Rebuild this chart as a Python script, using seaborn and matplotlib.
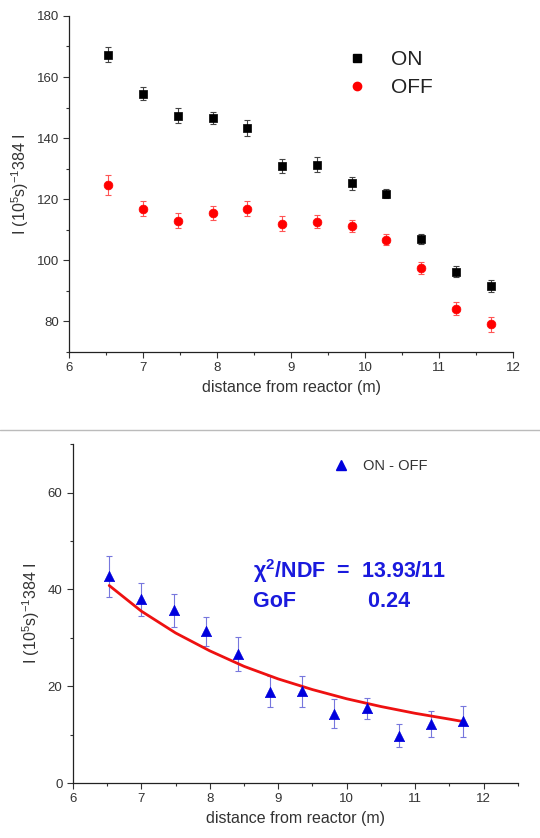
import numpy as np
import pandas as pd
import seaborn as sns
import matplotlib.pyplot as plt
from matplotlib.ticker import MultipleLocator
from matplotlib.lines import Line2D

# distances (m)
distancia = [6.53, 7.00, 7.47, 7.94, 8.41, 8.88, 9.35, 9.82, 10.29, 10.76, 11.23, 11.70]

# reactor ON / OFF
on_val = [167.3, 154.6, 147.4, 146.7, 143.3, 130.9, 131.3, 125.2, 121.8, 107.0, 96.3, 91.5]
on_err = [2.5, 2.2, 2.3, 2.0, 2.5, 2.4, 2.4, 2.2, 1.5, 1.5, 1.8, 2.0]
off_val = [124.6, 116.9, 113.0, 115.5, 116.9, 112.0, 112.7, 111.2, 106.8, 97.4, 84.2, 79.0]
off_err = [3.3, 2.5, 2.5, 2.2, 2.5, 2.5, 2.2, 2.0, 1.8, 2.0, 2.0, 2.5]

# ON - OFF
diff_val = [42.7, 38.0, 35.7, 31.3, 26.6, 18.9, 19.0, 14.3, 15.4, 9.8, 12.2, 12.8]
diff_err = [4.2, 3.4, 3.4, 2.9, 3.5, 3.2, 3.2, 3.0, 2.1, 2.3, 2.6, 3.2]

# curva de ajuste
fit_x = [6.53, 7.0, 7.5, 8.0, 8.5, 9.0, 9.5, 10.0, 10.5, 11.0, 11.5, 11.7]
fit_y = [40.8, 35.5, 31.0, 27.3, 24.1, 21.5, 19.3, 17.4, 15.8, 14.4, 13.2, 12.7]

df = pd.DataFrame({'d': distancia, 'on': on_val, 'off': off_val, 'diff': diff_val})
fit = pd.DataFrame({'d': fit_x, 'y': fit_y})

sns.set_theme(style='ticks')
plt.rcParams['font.family'] = ['Liberation Sans', 'DejaVu Sans']
plt.rcParams['mathtext.fontset'] = 'custom'
plt.rcParams['mathtext.rm'] = 'Liberation Sans'
plt.rcParams['mathtext.bf'] = 'Liberation Sans:bold'

fig = plt.figure(figsize=(5.4, 8.38), dpi=100)
ax1 = fig.add_axes([0.128, 0.580, 0.822, 0.401])
ax2 = fig.add_axes([0.135, 0.0656, 0.824, 0.4044])

ylab = r'I (10$^5$s)$^{-1}$384 I'

# ---- panel superior ----
ax1.errorbar(df['d'], df['on'], yerr=on_err, fmt='none', ecolor='#444444',
             elinewidth=0.8, capsize=2.5, capthick=0.8)
ax1.errorbar(df['d'], df['off'], yerr=off_err, fmt='none', ecolor='#ff5555',
             elinewidth=0.8, capsize=2.5, capthick=0.8)
sns.scatterplot(data=df, x='d', y='on', marker='s', color='black', s=38,
                edgecolor='black', linewidth=0.5, ax=ax1, zorder=3)
sns.scatterplot(data=df, x='d', y='off', marker='o', color='#ff0000', s=40,
                edgecolor='#ff0000', linewidth=0.5, ax=ax1, zorder=3)
ax1.set_xlim(6, 12)
ax1.set_ylim(70, 180)
ax1.xaxis.set_major_locator(MultipleLocator(1))
ax1.xaxis.set_minor_locator(MultipleLocator(0.5))
ax1.yaxis.set_minor_locator(MultipleLocator(10))
ax1.set_yticks([80, 100, 120, 140, 160, 180])
ax1.set_xlabel('distance from reactor (m)', fontsize=11.5, color='#333333')
ax1.set_ylabel(ylab, fontsize=11.5, color='#333333')
handles1 = [Line2D([], [], marker='s', color='black', ls='none', markersize=6),
            Line2D([], [], marker='o', color='#ff0000', ls='none', markersize=6)]
ax1.legend(handles1, ['ON', 'OFF'], loc='upper left', bbox_to_anchor=(0.56, 0.955),
           frameon=False, fontsize=15, handletextpad=0.6, labelspacing=0.45,
           labelcolor='#222222')

# ---- panel inferior ----
ax2.errorbar(df['d'], df['diff'], yerr=diff_err, fmt='none', ecolor='#7777dd',
             elinewidth=0.8, capsize=2.5, capthick=0.8)
sns.lineplot(data=fit, x='d', y='y', color='#ee1111', linewidth=2, ax=ax2, zorder=2)
sns.scatterplot(data=df, x='d', y='diff', marker='^', color='#0000dd', s=55,
                edgecolor='#0000dd', linewidth=0.5, ax=ax2, zorder=3)
ax2.set_xlim(6, 12.5)
ax2.set_ylim(0, 70)
ax2.xaxis.set_minor_locator(MultipleLocator(0.5))
ax2.set_xticks([6, 7, 8, 9, 10, 11, 12])
ax2.set_yticks([0, 20, 40, 60])
ax2.yaxis.set_minor_locator(MultipleLocator(10))
ax2.set_xlabel('distance from reactor (m)', fontsize=11.5, color='#333333')
ax2.set_ylabel(ylab, fontsize=11.5, color='#333333')
handles2 = [Line2D([], [], marker='^', color='#0000dd', ls='none', markersize=7)]
ax2.legend(handles2, ['ON - OFF'], loc='upper left', bbox_to_anchor=(0.54, 0.995),
           frameon=False, fontsize=10.5, handletextpad=0.5, labelcolor='#333333')
ax2.text(0.405, 0.605, r'$\mathbf{\chi^2}$/NDF  =  13.93/11', transform=ax2.transAxes,
         fontsize=15.5, fontweight='bold', color='#1a1add')
ax2.text(0.405, 0.52, 'GoF            0.24', transform=ax2.transAxes,
         fontsize=15.5, fontweight='bold', color='#1a1add')

for ax in (ax1, ax2):
    sns.despine(ax=ax)
    ax.tick_params(which='major', direction='out', length=4, width=0.8,
                   labelsize=9.5, colors='#333333')
    ax.tick_params(which='minor', direction='out', length=2.5, width=0.8, colors='#333333')
    for s in ('left', 'bottom'):
        ax.spines[s].set_linewidth(0.9)
        ax.spines[s].set_color('#222222')

# linea separadora
fig.add_artist(Line2D([0, 1], [0.487, 0.487], color='#bbbbbb', linewidth=1,
                      transform=fig.transFigure))

fig.savefig('out.png', dpi=100, facecolor='white')
